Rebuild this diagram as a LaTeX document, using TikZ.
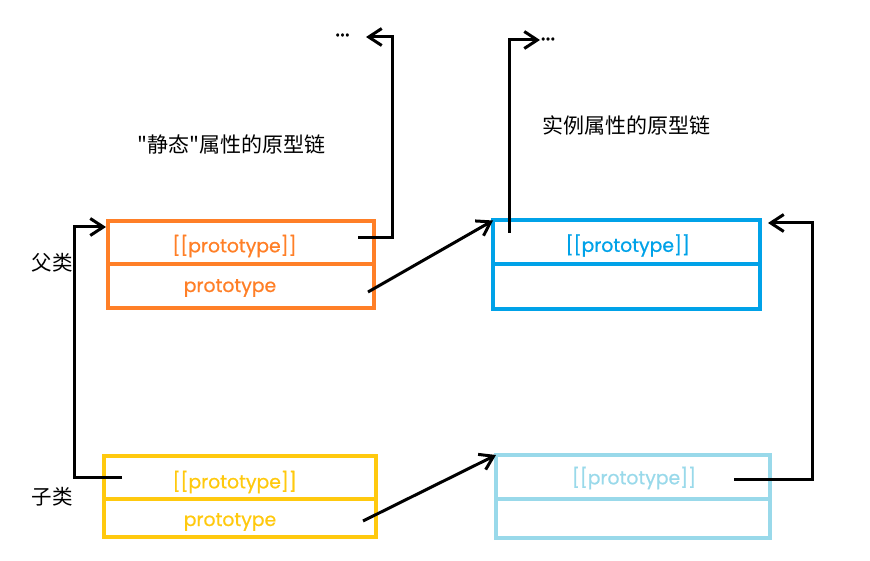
\documentclass[tikz,border=0pt]{standalone}
\usepackage{fontspec}
\setmainfont{Poppins}[FakeBold=0.8]
\newfontfamily\cjk{Noto Sans CJK SC}
\usetikzlibrary{arrows.meta}
\definecolor{porange}{HTML}{FF7F27}
\definecolor{pyellow}{HTML}{FFC90E}
\definecolor{pblue}{HTML}{00A2E8}
\definecolor{plblue}{HTML}{99D9EA}
\tikzset{
  cell/.style={draw=#1, line width=4pt, rectangle, inner sep=0pt, outer sep=0pt},
  celltext/.style={text=#1, inner sep=0pt, font=\fontsize{18.8}{22}\selectfont},
  link/.style={draw=black, line width=3pt, -{Straight Barb[length=13pt,width=17pt]}},
  cjklabel/.style={font=\cjk\fontsize{20.5}{24}\selectfont, inner sep=0pt},
  dots/.style={font=\fontsize{23}{25}\selectfont, inner sep=0pt}
}
\begin{document}
\begin{tikzpicture}[x=1pt,y=-1pt]
\useasboundingbox (0,0) rectangle (870,561);
% orange (parent, static)
\node[cell=porange, minimum width=266pt, minimum height=43pt] (otop) at (240.5,242.5) {};
\node[cell=porange, minimum width=266pt, minimum height=44pt] (obot) at (240.5,286) {};
\node[celltext=porange] (otopt) at (234.5,246) {[[prototype]]};
\node[celltext=porange] (obott) at (230,288) {prototype};
% yellow (child, static)
\node[cell=pyellow, minimum width=272pt, minimum height=43pt] (ytop) at (239.5,477.5) {};
\node[cell=pyellow, minimum width=272pt, minimum height=38pt] (ybot) at (239.5,518) {};
\node[celltext=pyellow] (ytopt) at (234.7,482) {[[prototype]]};
\node[celltext=pyellow] (ybott) at (230,522) {prototype};
% blue (parent, instance)
\node[cell=pblue, minimum width=267pt, minimum height=43.5pt] (btop) at (626.5,242.25) {};
\node[cell=pblue, minimum width=267pt, minimum height=45pt] (bbot) at (626.5,286.5) {};
\node[celltext=pblue] (btopt) at (627.8,245.5) {[[prototype]]};
% light blue (child, instance)
\node[cell=plblue, minimum width=274pt, minimum height=44pt] (ltop) at (633,477) {};
\node[cell=plblue, minimum width=274pt, minimum height=39pt] (lbot) at (633,518.5) {};
\node[celltext=plblue] (ltopt) at (634,478) {[[prototype]]};
% labels
\node[cjklabel] (fu) at (52,263) {父类};
\node[cjklabel] (zi) at (52,497) {子类};
\node[cjklabel, font=\cjk\fontsize{21}{24}\selectfont] (st) at (231.5,144) {"静态"属性的原型链};
\node[cjklabel, font=\cjk\fontsize{21}{24}\selectfont] (in) at (626.5,125) {实例属性的原型链};
\node[dots] (d1) at (342.5,35) {...};
\node[dots] (d2) at (548,39) {...};
% connector coordinates
\coordinate (s1) at (358,238);
\coordinate (e1) at (366,37);
\coordinate (s2) at (509,233);
\coordinate (e2) at (540,40);
\coordinate (s3) at (368,292);
\coordinate (s4) at (363,521);
\coordinate (s5) at (734,479);
\coordinate (e5) at (768,223);
\coordinate (s6) at (122,477);
\coordinate (e6) at (106,227);
% connectors
\draw[link] (s1) -- (392,238) -- (392,37) -- (e1);
\draw[link] (s2) -- (509,40) -- (e2);
\draw[link] (s3) -- (btop.north west);
\draw[link] (s4) -- (ltop.north west);
\draw[link] (s5) -- (812,479) -- (812,223) -- (e5);
\draw[link] (s6) -- (74,477) -- (74,227) -- (e6);
\end{tikzpicture}
\end{document}
